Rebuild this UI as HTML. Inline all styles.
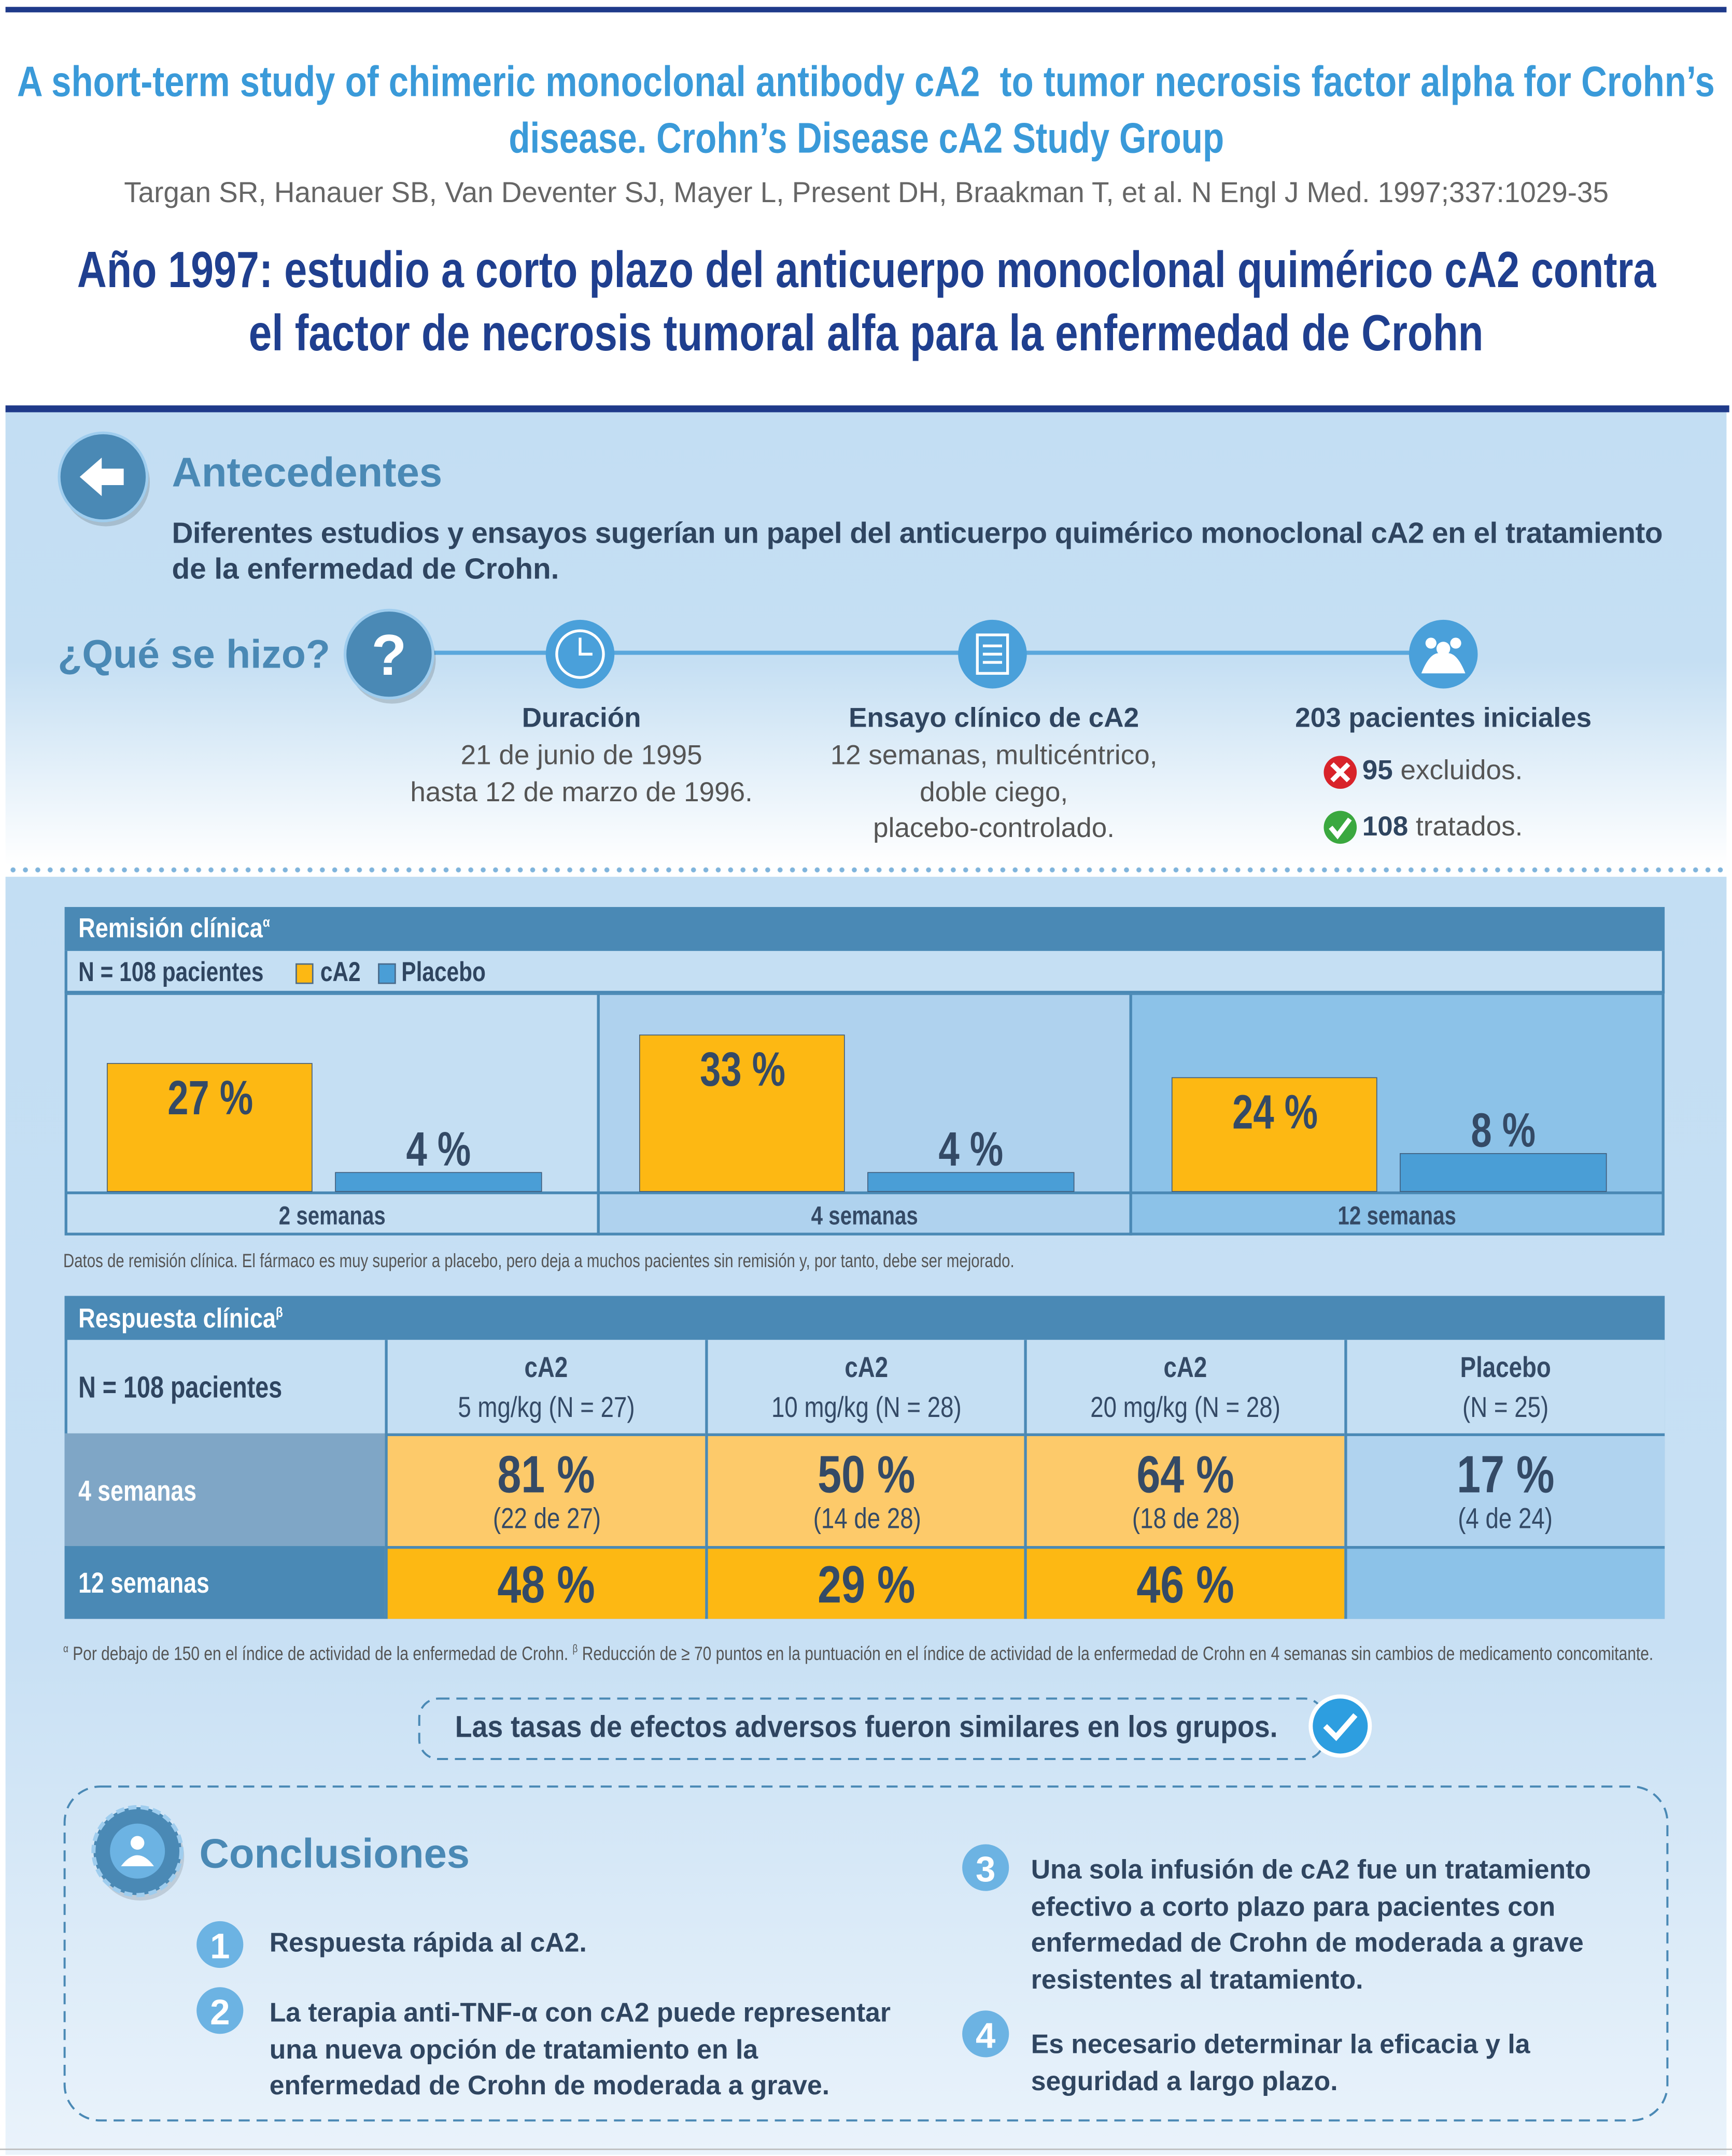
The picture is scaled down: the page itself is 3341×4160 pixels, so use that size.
<!DOCTYPE html>
<html><head><meta charset="utf-8">
<style>
html,body{margin:0;padding:0;background:#fff;}
body{width:3341px;height:4159px;overflow:hidden;}
#wrap{position:absolute;left:0;top:0;width:1260px;height:1569px;transform:scale(2.6516);transform-origin:0 0;font-family:"Liberation Sans",sans-serif;color:#2f4560;overflow:hidden;}
.t{position:absolute;white-space:nowrap;line-height:1;}
.c{text-align:center;}
.wide{left:-500px !important;width:2260px !important;}
.bx{position:absolute;box-sizing:border-box;}
.sx{display:inline-block;transform:scaleX(.85);transform-origin:left center;}
.sc{display:inline-block;transform:scaleX(.85);transform-origin:center center;}
</style></head><body>
<div id="wrap">
<div class="bx" style="left:4px;top:5px;width:1252px;height:4px;background:#1f3a8a"></div>
<div class="t c wide" style="top:44px;font-size:31px;font-weight:bold;color:#3a9ad9"><span class="sc" style="transform:scaleX(.838)">A short-term study of chimeric monoclonal antibody cA2&nbsp; to tumor necrosis factor alpha for Crohn’s</span></div>
<div class="t c wide" style="top:85px;font-size:31px;font-weight:bold;color:#3a9ad9"><span class="sc" style="transform:scaleX(.82)">disease. Crohn’s Disease cA2 Study Group</span></div>
<div class="t c wide" style="top:130px;font-size:21px;color:#666"><span class="sc" style="transform:scaleX(.985)">Targan SR, Hanauer SB, Van Deventer SJ, Mayer L, Present DH, Braakman T, et al. N Engl J Med. 1997;337:1029-35</span></div>
<div class="t c wide" style="top:178px;font-size:37px;font-weight:bold;color:#1f3f8f"><span class="sc" style="transform:scaleX(.805)">Año 1997: estudio a corto plazo del anticuerpo monoclonal quimérico cA2 contra</span></div>
<div class="t c wide" style="top:224px;font-size:37px;font-weight:bold;color:#1f3f8f"><span class="sc" style="transform:scaleX(.815)">el factor de necrosis tumoral alfa para la enfermedad de Crohn</span></div>
<div class="bx" style="left:4px;top:295px;width:1254px;height:5px;background:#1f3a8a"></div>

<div class="bx" style="left:4px;top:300px;width:1252px;height:330px;background:linear-gradient(#c3def3 0%,#c5dff3 55%,#ffffff 100%)"></div>
<div class="bx" style="left:4px;top:638px;width:1252px;height:930px;background:linear-gradient(#c3def3 0%,#c8e0f4 60%,#eaf3fb 100%)"></div>
<div class="bx" style="left:5px;top:631px;width:1252px;height:4px;background:radial-gradient(circle,#7fb4dc 1.6px,transparent 2px) 0 0/9px 4px repeat-x"></div>

<svg class="bx" style="left:0;top:0" width="1260" height="1569" id="svg">
 <circle cx="77" cy="351" r="32" fill="#000" opacity="0.15"/>
 <circle cx="75" cy="347" r="32" fill="#4a89b5" stroke="#9fcdee" stroke-width="2"/>
 <path d="M58 347 L74 333 L74 341 L90 341 L90 353 L74 353 L74 361 Z" fill="#fff"/>
 <line x1="315" y1="475" x2="1050" y2="475" stroke="#5aa7dc" stroke-width="3"/>
 <circle cx="285" cy="480" r="32" fill="#000" opacity="0.15"/>
 <circle cx="283" cy="476" r="32" fill="#4a89b5" stroke="#9fcdee" stroke-width="2"/>
 <text x="283" y="491" font-size="42" font-weight="bold" fill="#fff" text-anchor="middle" font-family="Liberation Sans">?</text>
 <circle cx="422" cy="476" r="25" fill="#4aa0da"/>
 <circle cx="422" cy="476" r="17" fill="none" stroke="#fff" stroke-width="2"/>
 <path d="M422 464 L422 476 L431 476" stroke="#fff" stroke-width="2" fill="none"/>
 <circle cx="722" cy="476" r="25" fill="#4aa0da"/>
 <rect x="711" y="462" width="22" height="28" fill="none" stroke="#fff" stroke-width="2"/>
 <path d="M715 470h14M715 476h14M715 482h14" stroke="#fff" stroke-width="2"/>
 <circle cx="1050" cy="476" r="25" fill="#4aa0da"/>
 <circle cx="1041" cy="468" r="4" fill="#fff"/><circle cx="1059" cy="468" r="4" fill="#fff"/><circle cx="1050" cy="472" r="5" fill="#fff"/>
 <path d="M1034 490 q7-18 16-14 q9-4 16 14 Z" fill="#fff"/>
 <circle cx="975" cy="562" r="12" fill="#d8232a"/>
 <path d="M969 556 L981 568 M981 556 L969 568" stroke="#fff" stroke-width="3.5"/>
 <circle cx="975" cy="602" r="12" fill="#3aa83f"/>
 <path d="M968 602 L973 608 L982 596" stroke="#fff" stroke-width="3.5" fill="none"/>
 <g id="chart"></g>
 <rect x="305" y="1236" width="658" height="44" rx="14" fill="none" stroke="#4a89b5" stroke-width="1.5" stroke-dasharray="8 5"/>
 <circle cx="975" cy="1256" r="23" fill="#fff"/>
 <circle cx="975" cy="1256" r="20" fill="#2d9ee0"/>
 <path d="M964 1256 L972 1264 L986 1248" stroke="#fff" stroke-width="4" fill="none"/>
 <rect x="47" y="1300" width="1166" height="243" rx="26" fill="none" stroke="#4a89b5" stroke-width="1.5" stroke-dasharray="8 5"/>
 <circle cx="102" cy="1351" r="32" fill="#000" opacity="0.12"/>
 <circle cx="100" cy="1347" r="32" fill="#4a89b5" stroke="#9fcdee" stroke-width="3" stroke-dasharray="6 3"/>
 <circle cx="100" cy="1347" r="20" fill="#6cb3e3"/>
 <circle cx="100" cy="1341" r="5" fill="#fff"/><path d="M88 1358 q12-16 24 0 Z" fill="#fff"/>
 <g>
  <circle cx="160" cy="1415" r="17" fill="#6cb3e3"/><text x="160" y="1425" font-size="26" font-weight="bold" fill="#fff" text-anchor="middle">1</text>
  <circle cx="160" cy="1463" r="17" fill="#6cb3e3"/><text x="160" y="1473" font-size="26" font-weight="bold" fill="#fff" text-anchor="middle">2</text>
  <circle cx="717" cy="1359" r="17" fill="#6cb3e3"/><text x="717" y="1369" font-size="26" font-weight="bold" fill="#fff" text-anchor="middle">3</text>
  <circle cx="717" cy="1480" r="17" fill="#6cb3e3"/><text x="717" y="1490" font-size="26" font-weight="bold" fill="#fff" text-anchor="middle">4</text>
 </g>
 <line x1="0" y1="1564" x2="1260" y2="1564" stroke="#bbb" stroke-width="1"/>
</svg>

<div class="t" style="left:125px;top:330px;font-size:30px;font-weight:bold;color:#4a89b5">Antecedentes</div>
<div class="t" style="left:125px;top:378px;font-size:21.4px;font-weight:bold;color:#2f4560;letter-spacing:-0.2px">Diferentes estudios y ensayos sugerían un papel del anticuerpo quimérico monoclonal cA2 en el tratamiento</div>
<div class="t" style="left:125px;top:404px;font-size:21.4px;font-weight:bold;color:#2f4560">de la enfermedad de Crohn.</div>
<div class="t" style="left:42px;top:463px;font-size:29px;font-weight:bold;color:#4a89b5">¿Qué se hizo?</div>

<div class="t c" style="left:273px;width:300px;top:513px;font-size:20px;font-weight:bold">Duración</div>
<div class="t c" style="left:273px;width:300px;top:540px;font-size:20px;color:#555">21 de junio de 1995</div>
<div class="t c" style="left:273px;width:300px;top:567px;font-size:20px;color:#555">hasta 12 de marzo de 1996.</div>
<div class="t c" style="left:573px;width:300px;top:513px;font-size:20px;font-weight:bold">Ensayo clínico de cA2</div>
<div class="t c" style="left:573px;width:300px;top:540px;font-size:20px;color:#555">12 semanas, multicéntrico,</div>
<div class="t c" style="left:573px;width:300px;top:567px;font-size:20px;color:#555">doble ciego,</div>
<div class="t c" style="left:573px;width:300px;top:593px;font-size:20px;color:#555">placebo-controlado.</div>
<div class="t c" style="left:900px;width:300px;top:513px;font-size:20px;font-weight:bold">203 pacientes iniciales</div>
<div class="t" style="left:991px;top:551px;font-size:20px;color:#555"><b style="color:#2f4560">95</b> excluidos.</div>
<div class="t" style="left:991px;top:592px;font-size:20px;color:#555"><b style="color:#2f4560">108</b> tratados.</div>

<!-- Remission box -->
<div class="bx" style="left:47px;top:660px;width:1164px;height:32px;background:#4a89b5"></div>
<div class="t" style="left:57px;top:666px;font-size:20px;font-weight:bold;color:#fff"><span class="sx">Remisión clínica<sup style="font-size:10px">α</sup></span></div>
<div class="bx" style="left:47px;top:692px;width:1164px;height:31px;background:#c5dff3;border:2px solid #4a89b5;border-top:none"></div>
<div class="t" style="left:57px;top:698px;font-size:20px;font-weight:bold"><span class="sx" style="transform:scaleX(.8)">N = 108 pacientes</span></div>
<div class="bx" style="left:215px;top:701px;width:13px;height:15px;background:#fdb813;border:1px solid #4a6a8a"></div>
<div class="t" style="left:233px;top:698px;font-size:20px;font-weight:bold"><span class="sx" style="transform:scaleX(.8)">cA2</span></div>
<div class="bx" style="left:275px;top:701px;width:13px;height:15px;background:#4a9ed6;border:1px solid #4a6a8a"></div>
<div class="t" style="left:292px;top:698px;font-size:20px;font-weight:bold"><span class="sx" style="transform:scaleX(.8)">Placebo</span></div>
<div class="t" style="left:46px;top:910px;font-size:14px;color:#555"><span class="sx" style="transform:scaleX(.792)">Datos de remisión clínica. El fármaco es muy superior a placebo, pero deja a muchos pacientes sin remisión y, por tanto, debe ser mejorado.</span></div>

<!-- Response table -->
<div class="bx" style="left:47px;top:943px;width:1164px;height:235px;border:2px solid #4a89b5;background:#c5dff3"></div>
<div class="bx" style="left:47px;top:943px;width:1164px;height:32px;background:#4a89b5"></div>
<div class="t" style="left:57px;top:950px;font-size:20px;font-weight:bold;color:#fff"><span class="sx">Respuesta clínica<sup style="font-size:10px">β</sup></span></div>
<div class="t" style="left:57px;top:999px;font-size:22px;font-weight:bold"><span class="sx" style="transform:scaleX(.8)">N = 108 pacientes</span></div>
<div class="bx" style="left:47px;top:1043px;width:233px;height:82px;background:#7fa6c6"></div>
<div class="t" style="left:57px;top:1075px;font-size:21px;font-weight:bold;color:#fff"><span class="sx" style="transform:scaleX(.8)">4 semanas</span></div>
<div class="bx" style="left:47px;top:1125px;width:233px;height:53px;background:#4a89b5"></div>
<div class="t" style="left:57px;top:1142px;font-size:21px;font-weight:bold;color:#fff"><span class="sx" style="transform:scaleX(.8)">12 semanas</span></div>
<div id="resp"></div>

<div class="t" style="left:46px;top:1196px;font-size:14px;color:#555"><span class="sx" style="transform:scaleX(.807)"><sup style="font-size:8px">α</sup> Por debajo de 150 en el índice de actividad de la enfermedad de Crohn. <sup style="font-size:8px">β</sup> Reducción de ≥ 70 puntos en la puntuación en el índice de actividad de la enfermedad de Crohn en 4 semanas sin cambios de medicamento concomitante.</span></div>
<div class="t c" style="left:305px;width:645px;top:1246px;font-size:22px;font-weight:bold"><span class="sc" style="transform:scaleX(.92)">Las tasas de efectos adversos fueron similares en los grupos.</span></div>

<div class="t" style="left:145px;top:1335px;font-size:30px;font-weight:bold;color:#4a89b5">Conclusiones</div>
<div style="font-size:19.5px;font-weight:600;color:#2f4560">
<div class="t" style="left:196px;top:1405px">Respuesta rápida al cA2.</div>
<div class="t" style="left:196px;top:1452px;line-height:26.5px">La terapia anti-TNF-α con cA2 puede representar<br>una nueva opción de tratamiento en la<br>enfermedad de Crohn de moderada a grave.</div>
<div class="t" style="left:750px;top:1348px;line-height:26.7px">Una sola infusión de cA2 fue un tratamiento<br>efectivo a corto plazo para pacientes con<br>enfermedad de Crohn de moderada a grave<br>resistentes al tratamiento.</div>
<div class="t" style="left:750px;top:1475px;line-height:26.5px">Es necesario determinar la eficacia y la<br>seguridad a largo plazo.</div>
</div>
</div>

<script>
const categories = ["2 semanas", "4 semanas", "12 semanas"];
const ca2Values = [27, 33, 24];
const placeboValues = [4, 4, 8];

const respGroups = ["cA2", "cA2", "cA2", "Placebo"];
const respDoses = ["5 mg/kg (N = 27)", "10 mg/kg (N = 28)", "20 mg/kg (N = 28)", "(N = 25)"];
const resp4Values = [81, 50, 64, 17];
const resp4Counts = ["(22 de 27)", "(14 de 28)", "(18 de 28)", "(4 de 24)"];
const resp12Values = [48, 29, 46, null];

(function(){
 const NS = "http://www.w3.org/2000/svg";
 const g = document.getElementById('chart');
 const panelX0 = 48, panelW = 387.3, top = 723, base = 867, pxPerPct = 3.45;
 const yScale = v => base - v * pxPerPct;
 const xPanel = i => panelX0 + i * panelW;
 const fills = ["#c5dff3", "#afd2ee", "#8cc2e8"];
 function mk(tag, attrs){ const e = document.createElementNS(NS, tag); for (const k in attrs) e.setAttribute(k, attrs[k]); g.appendChild(e); return e; }
 function label(cx, y, size, txt, sx){
  const e = mk('text', {x: 0, y: 0, transform: `translate(${cx},${y}) scale(${sx},1)`, "font-size": size, "font-weight": "bold", fill: "#344a66", "text-anchor": "middle", "font-family": "Liberation Sans, sans-serif"});
  e.textContent = txt;
  return e;
 }
 categories.forEach((cat, i) => {
  const x = xPanel(i);
  const p = mk('rect', {x: x, y: top, width: panelW, height: 175, fill: fills[i], stroke: "#4a89b5", "stroke-width": 2});
  
  
  mk('line', {x1: x, y1: base + 1, x2: x + panelW, y2: base + 1, stroke: "#4a89b5", "stroke-width": 2});
  const b1 = mk('rect', {x: x + 30, y: yScale(ca2Values[i]), width: 149, height: ca2Values[i] * pxPerPct, fill: "#fdb813", stroke: "#3e5a78", "stroke-width": 0.6});
  
  
  const b2 = mk('rect', {x: x + 196, y: yScale(placeboValues[i]), width: 150, height: placeboValues[i] * pxPerPct, fill: "#4a9ed6", stroke: "#3e5a78", "stroke-width": 0.6});
  
  
  const l1 = label(x + 105, yScale(ca2Values[i]) + 37, 35, ca2Values[i] + " %", 0.78);
  
  
  const l2 = label(x + 271, yScale(placeboValues[i]) - 5, 35, placeboValues[i] + " %", 0.78);
  
  
  const cl = label(x + panelW / 2, 891, 19, cat, 0.8);
  
  
 });

 const r = document.getElementById('resp');
 const colX = [280, 513, 745, 978], colW = 233;
 function box(x, y, w, h, bg, html, name, style){
  const d = document.createElement('div');
  d.className = 'bx';
  d.style.cssText = `left:${x}px;top:${y}px;width:${w}px;height:${h}px;background:${bg};border-left:2px solid #4a89b5;border-top:2px solid #4a89b5;text-align:center;color:#344a66;white-space:nowrap;line-height:1;` + (style || '');
  d.innerHTML = html;
  
  
  r.appendChild(d);
 }
 const S = s => `<span class="sc" style="transform:scaleX(.82)">${s}</span>`;
 respGroups.forEach((gname, i) => {
  const pl = i === 3;
  box(colX[i], 975, colW, 68, "#c5dff3", `<div style="font-size:21px;font-weight:bold;margin-top:10px">${S(gname)}</div><div style="font-size:21px;margin-top:8px">${S(respDoses[i])}</div>`, 'column-header', 'border-top:none');
  box(colX[i], 1043, colW, 82, pl ? "#b0d3ef" : "#fdca6a", `<div style="font-size:38px;font-weight:bold;margin-top:10px">${S(resp4Values[i] + ' %')}</div><div style="font-size:21px;margin-top:2px">${S(resp4Counts[i])}</div>`, 'cell-4-semanas');
  box(colX[i], 1125, colW, 53, pl ? "#8cc2e8" : "#fdb813", resp12Values[i] == null ? '' : `<div style="font-size:38px;font-weight:bold;margin-top:8px">${S(resp12Values[i] + ' %')}</div>`, 'cell-12-semanas');
 });
})();
</script>
</body></html>
